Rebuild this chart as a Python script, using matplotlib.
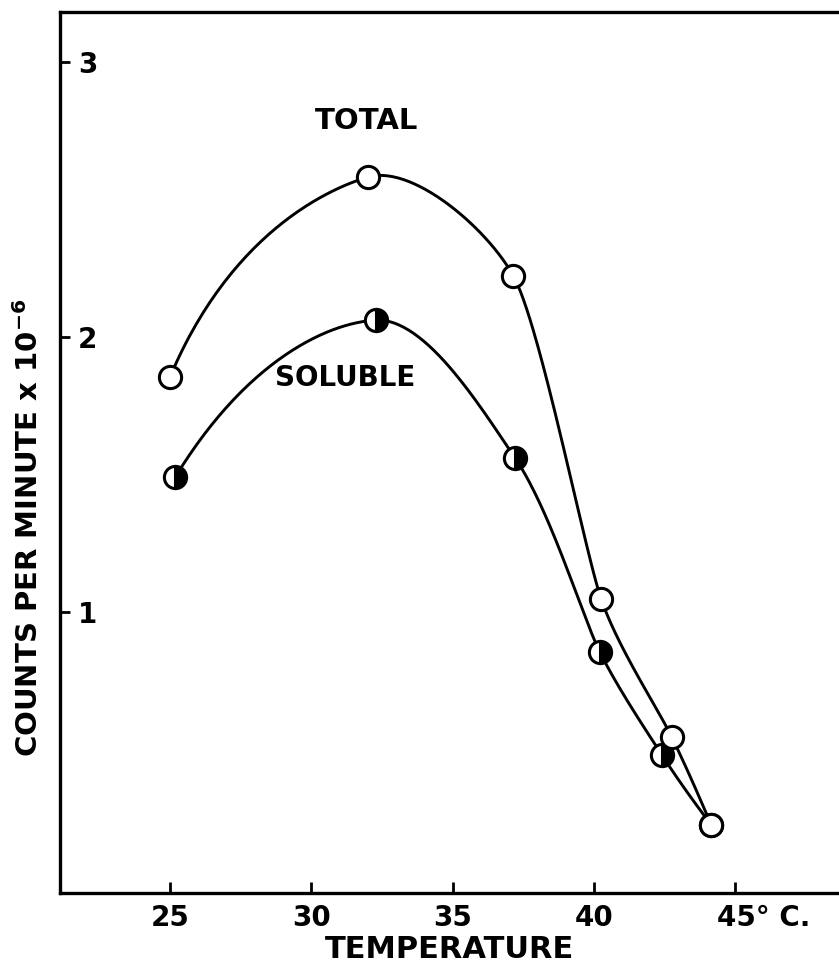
import numpy as np
import matplotlib
matplotlib.use("Agg")
import matplotlib.pyplot as plt
import matplotlib.transforms as mtransforms

# data
temp_total = [25.0, 32.0, 37.15, 40.25, 42.75, 44.15]
total = [1.855, 2.58, 2.22, 1.047, 0.545, 0.225]

temp_soluble = [25.18, 32.27, 37.2, 40.2, 42.4, 44.15]
soluble = [1.49, 2.06, 1.56, 0.855, 0.48, 0.225]

xticks = [25, 30, 35, 40, 45]
xtick_labels = ["25", "30", "35", "40", "45\u00b0 C."]
yticks = [1, 2, 3]
ytick_labels = ["1", "2", "3"]


def smooth_curve(ax, xs, ys, n=60):
    # Hermite curve through the points, done in display space so it bends
    # like a hand drawn one; tangent length limited by the shorter neighbour chord
    pts = ax.transData.transform(np.column_stack([xs, ys]))
    h = np.linalg.norm(np.diff(pts, axis=0), axis=1)
    d = np.diff(pts, axis=0) / h[:, None]
    m = len(pts)
    tan = np.zeros_like(pts)
    for i in range(1, m - 1):
        w = h[i - 1] / (h[i - 1] + h[i])
        tan[i] = (d[i - 1] * w + d[i] * (1 - w)) * min(h[i - 1], h[i])
    # ends: slope of the parabola through the first / last three points
    w0 = h[0] / (h[0] + h[1])
    tan[0] = (d[0] * (1 + w0) - d[1] * w0) * h[0]
    w1 = h[-1] / (h[-1] + h[-2])
    tan[-1] = (d[-1] * (1 + w1) - d[-2] * w1) * h[-1]
    out = []
    for i in range(m - 1):
        t = np.linspace(0, 1, n)[:, None]
        h00 = 2 * t**3 - 3 * t**2 + 1
        h10 = t**3 - 2 * t**2 + t
        h01 = -2 * t**3 + 3 * t**2
        h11 = t**3 - t**2
        seg = h00 * pts[i] + h10 * tan[i] + h01 * pts[i + 1] + h11 * tan[i + 1]
        out.append(seg)
    out = np.vstack(out)
    data = ax.transData.inverted().transform(out)
    return data[:, 0], data[:, 1]


plt.rcParams["font.family"] = ["DejaVu Sans"]
plt.rcParams["font.weight"] = "bold"

fig = plt.figure(figsize=(8.39, 9.69), dpi=100)
ax = fig.add_axes([60 / 839, 76 / 969, 779 / 839, 881 / 969])
ax.set_xlim(21.1, 48.67)
ax.set_ylim(-0.022, 3.18)

for s in ["left", "bottom", "top"]:
    ax.spines[s].set_linewidth(2.4)
ax.spines["right"].set_visible(False)

# curves
cx, cy = smooth_curve(ax, temp_soluble, soluble)
ax.plot(cx, cy, color="black", lw=2.1, zorder=2)
cx, cy = smooth_curve(ax, temp_total, total)
ax.plot(cx, cy, color="black", lw=2.1, zorder=2)

ax.plot(temp_soluble, soluble, linestyle="none", marker="o", ms=16, mew=2.2,
        mec="black", fillstyle="right", mfc="black", mfcalt="white", zorder=3)
ax.plot(temp_total, total, linestyle="none", marker="o", ms=16, mew=2.2,
        mec="black", mfc="white", zorder=4)

ax.text(31.95, 2.785, "TOTAL", fontsize=21, fontweight="bold", ha="center", va="center")
ax.text(31.2, 1.85, "SOLUBLE", fontsize=20, fontweight="bold", ha="center", va="center")

# ticks
ax.set_xticks(xticks)
ax.set_xticklabels(xtick_labels, fontsize=20, fontweight="bold")
ax.tick_params(axis="x", direction="in", length=8, width=2, pad=8)
lab = ax.get_xticklabels()[-1]
lab.set_transform(lab.get_transform() + mtransforms.ScaledTranslation(28 / 100, 0, fig.dpi_scale_trans))

ax.set_yticks(yticks)
ax.set_yticklabels(ytick_labels, fontsize=20, fontweight="bold")
ax.tick_params(axis="y", direction="in", length=7, width=2, pad=-13)
for t in ax.get_yticklabels():
    t.set_horizontalalignment("left")

ax.set_xlabel("TEMPERATURE", fontsize=22, fontweight="bold", labelpad=2)
ax.set_ylabel("COUNTS PER MINUTE x 10$^{-6}$", fontsize=21, fontweight="bold")
ax.yaxis.set_label_coords(-0.021, 0.415)

fig.savefig("out.png", dpi=100)
